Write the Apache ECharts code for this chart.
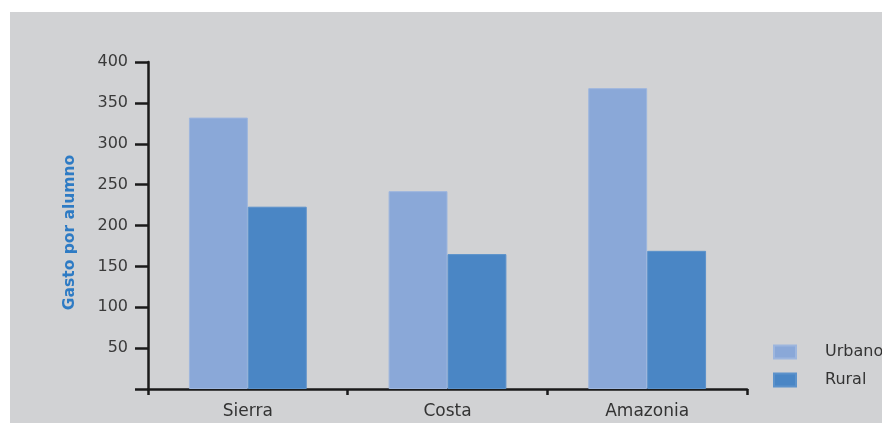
<!DOCTYPE html>
<html>
<head>
<meta charset="utf-8">
<script src="https://cdn.jsdelivr.net/npm/echarts@6/dist/echarts.min.js"></script>
<style>
html,body{margin:0;padding:0;background:#ffffff;width:882px;height:423px;overflow:hidden;}
#chart{position:absolute;left:10px;top:12px;width:872px;height:411px;background:#D1D2D4;}
</style>
</head>
<body>
<div id="chart"></div>
<script>
const categories = ['Sierra', 'Costa', 'Amazonia'];
const urbano = [332, 242, 368];
const rural = [223, 165, 169];
const yTicks = { min: 0, max: 400, interval: 50 };
const seriesNames = ['Urbano', 'Rural'];

const chart = echarts.init(document.getElementById('chart'), null, { renderer: 'canvas' });
const font = 'DejaVu Sans';
chart.setOption({
  animation: false,
  backgroundColor: '#D1D2D4',
  grid: { left: 138, top: 50, width: 599, height: 327, containLabel: false },
  legend: {
    orient: 'vertical',
    left: 763, top: 332, padding: 0,
    itemWidth: 22, itemHeight: 13, itemGap: 12,
    icon: 'rect',
    textStyle: { fontFamily: font, fontSize: 16, color: '#333', padding: [0, 0, 0, 24] },
    data: seriesNames
  },
  xAxis: {
    type: 'category',
    data: categories,
    axisLine: { lineStyle: { color: '#1a1a1a', width: 2.5 } },
    axisTick: { show: true, length: 6, lineStyle: { color: '#1a1a1a', width: 2.5 } },
    axisLabel: { fontFamily: font, fontSize: 17, color: '#333', margin: 14 }
  },
  yAxis: {
    type: 'value',
    min: yTicks.min, max: yTicks.max, interval: yTicks.interval,
    name: 'Gasto por alumno',
    nameLocation: 'middle',
    nameRotate: 90,
    nameGap: 70,
    nameTextStyle: { fontFamily: font, fontSize: 15.5, fontWeight: 'bold', color: '#2E7BC4', padding: [0, 14, 0, 0] },
    axisLine: { show: true, lineStyle: { color: '#1a1a1a', width: 2.5 } },
    axisTick: { show: true, length: 13, lineStyle: { color: '#1a1a1a', width: 2.5 } },
    axisLabel: { fontFamily: font, fontSize: 16, color: '#3a3a3a', margin: 20,
      formatter: v => v === 0 ? '' : String(v) },
    splitLine: { show: false }
  },
  series: [
    { name: seriesNames[0], type: 'bar', data: urbano, barGap: '0%', barCategoryGap: '41%',
      itemStyle: { color: '#8AA8D8', borderColor: '#9DB6DE', borderWidth: 1 } },
    { name: seriesNames[1], type: 'bar', data: rural, barGap: '0%', barCategoryGap: '41%',
      itemStyle: { color: '#4A86C5', borderColor: '#5C92CB', borderWidth: 1 } }
  ]
});
</script>
</body>
</html>
